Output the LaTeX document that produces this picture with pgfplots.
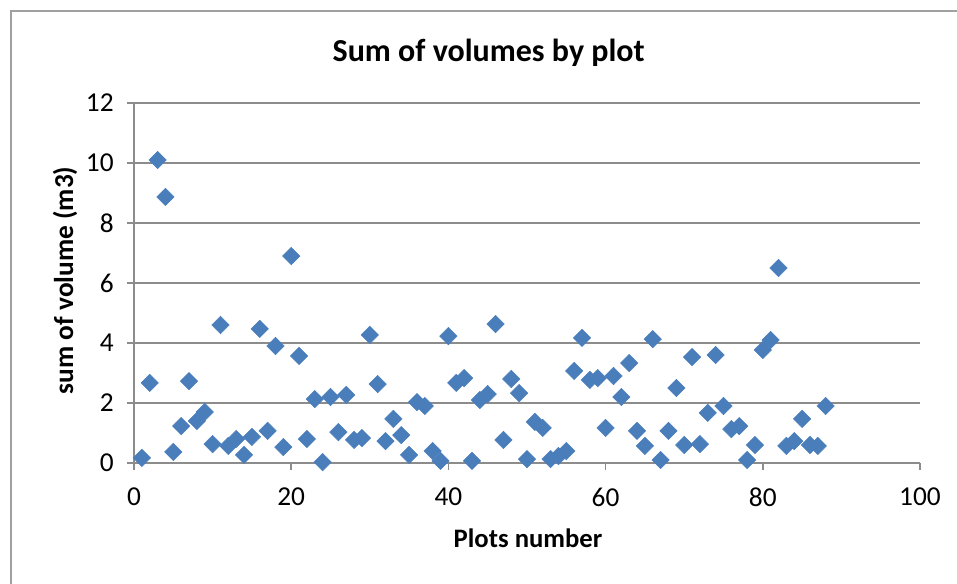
\documentclass[border=0pt]{standalone}
\usepackage{fontspec}
\setmainfont{Carlito}
\usepackage{pgfplots}
\pgfplotsset{compat=1.18}
\definecolor{markblue}{HTML}{4A7EBB}
\definecolor{gridgray}{HTML}{8C8C8C}
\definecolor{framegray}{HTML}{A0A0A0}

\begin{document}
\begin{tikzpicture}
\begin{axis}[
    at={(0pt,0pt)}, anchor=south west,
    scale only axis, width=589.5pt, height=270pt,
    xmin=0, xmax=100, ymin=0, ymax=12,
    xtick={0,20,...,100}, ytick={0,2,...,12},
    axis lines*=left,
    axis line style={gridgray, line width=1.1pt},
    ymajorgrids=true,
    grid style={gridgray, line width=1.1pt},
    tick align=outside, major tick length=5.25pt,
    tick style={gridgray, line width=1.1pt},
    clip=false,
    /pgf/number format/assume math mode=true,
    ticklabel style={font=\fontsize{20.5}{20.5}\selectfont, text=black},
    yticklabel style={xshift=-6.5pt},
    xticklabel style={yshift=-10pt},
]
\addplot[only marks, mark=square*, mark size=4.6pt,
    mark options={rotate=45, fill=markblue, draw=markblue}]
    coordinates {
    (1,0.17)(2,2.67)(3,10.1)(4,8.87)(5,0.37)(6,1.23)(7,2.73)(8,1.4)(9,1.7)(10,0.63)
    (11,4.6)(12,0.57)(13,0.8)(14,0.27)(15,0.87)(16,4.47)(17,1.07)(18,3.9)(19,0.53)(20,6.9)
    (21,3.57)(22,0.8)(23,2.13)(24,0.03)(25,2.2)(26,1.03)(27,2.27)(28,0.77)(29,0.83)(30,4.27)
    (31,2.63)(32,0.73)(33,1.47)(34,0.93)(35,0.27)(36,2.03)(37,1.9)(38,0.4)(39,0.07)(40,4.23)
    (41,2.67)(42,2.83)(43,0.07)(44,2.1)(45,2.3)(46,4.63)(47,0.77)(48,2.8)(49,2.33)(50,0.13)
    (51,1.37)(52,1.17)(53,0.13)(54,0.23)(55,0.4)(56,3.07)(57,4.17)(58,2.77)(59,2.83)(60,1.17)
    (61,2.9)(62,2.2)(63,3.33)(64,1.07)(65,0.57)(66,4.13)(67,0.1)(68,1.07)(69,2.5)(70,0.6)
    (71,3.53)(72,0.63)(73,1.67)(74,3.6)(75,1.9)(76,1.13)(77,1.23)(78,0.1)(79,0.6)(80,3.77)
    (81,4.1)(82,6.5)(83,0.57)(84,0.73)(85,1.47)(86,0.6)(87,0.57)(88,1.9)
    };
\end{axis}
% title and axis labels
\node[font=\fontsize{24}{24}\selectfont\bfseries] at (266pt,308pt) {Sum of volumes by plot};
\node[font=\fontsize{20}{20}\selectfont\bfseries] at (295.5pt,-56.25pt) {Plots number};
\node[font=\fontsize{20.5}{20.5}\selectfont\bfseries, rotate=90] at (-51.75pt,137pt) {sum of volume (m3)};
% chart frame (cut off at right and bottom)
\draw[framegray, line width=0.9pt] (-92.25pt,-200pt) -- (-92.25pt,339pt) -- (700pt,339pt);
\pgfresetboundingbox
\useasboundingbox (-100.5pt,-90pt) rectangle (617.25pt,347.25pt);
\end{tikzpicture}
\end{document}
